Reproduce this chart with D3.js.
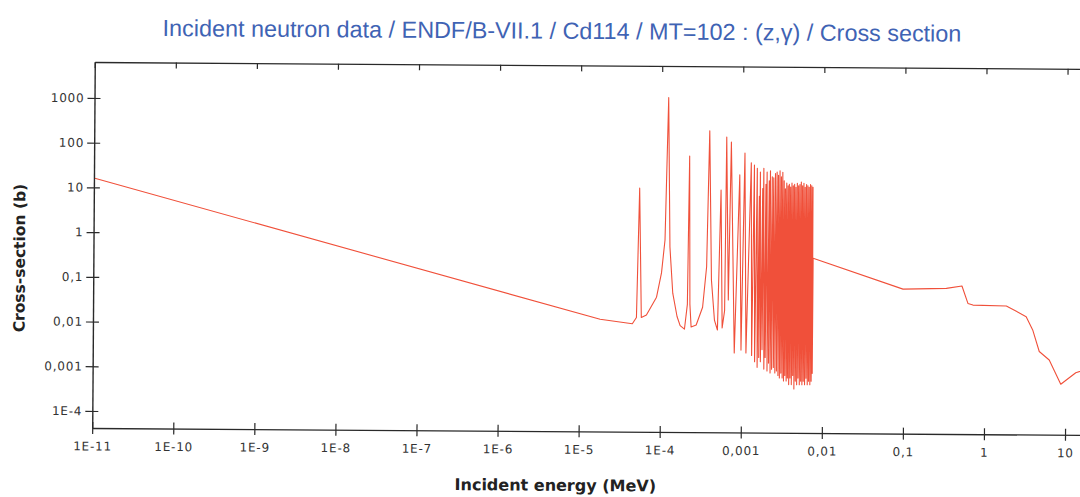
<!DOCTYPE html>
<html><head><meta charset="utf-8">
<script src="https://cdn.jsdelivr.net/npm/d3@7/dist/d3.min.js"></script>
<style>
html,body{margin:0;padding:0;background:#fff;}
svg{display:block;}
</style></head>
<body>
<svg id="chart" width="1080" height="497"></svg>
<script>
// ---------- data (energy in MeV, cross section in barns) ----------
const titleText = "Incident neutron data / ENDF/B-VII.1 / Cd114 / MT=102 : (z,\u03B3) / Cross section";
const xTitle = "Incident energy (MeV)";
const yTitle = "Cross-section (b)";

const xTickValues = [1e-11,1e-10,1e-9,1e-8,1e-7,1e-6,1e-5,1e-4,1e-3,1e-2,1e-1,1,10];
const xTickLabels = ["1E-11","1E-10","1E-9","1E-8","1E-7","1E-6","1E-5","1E-4","0,001","0,01","0,1","1","10"];
const yTickValues = [1e-4,1e-3,1e-2,1e-1,1,10,100,1000];
const yTickLabels = ["1E-4","0,001","0,01","0,1","1","10","100","1000"];

// 1/v region
const thermalPts = [[1e-11,16.2],[1.8e-5,0.0135],[4.5e-5,0.0108],[5.05e-5,0.0150]];

// isolated resolved resonances
const resolvedPts = [
 [5.40e-5,11.7],[5.8e-5,0.0150],[6.7e-5,0.017],[8.9e-5,0.043],[1.02e-4,0.15],[1.12e-4,0.82],
 [1.21e-4,1250],[1.29e-4,0.57],[1.41e-4,0.053],[1.60e-4,0.016],[1.75e-4,0.010],[1.98e-4,0.0084],
 [2.14e-4,0.03],[2.22e-4,62],[2.30e-4,0.03],[2.39e-4,0.0094],[2.76e-4,0.0104],[3.30e-4,0.026],[3.67e-4,0.21],
 [3.91e-4,230],[4.22e-4,0.106],[4.63e-4,0.0135],[5.05e-4,0.0081],
 [5.45e-4,11],[5.77e-4,0.009],[6.17e-4,0.022],[6.34e-4,168],[6.84e-4,0.038],[7.24e-4,130],
 [8.18e-4,0.0025],[9.25e-4,24],[9.9e-4,0.0029],[1.067e-3,74],[1.14e-3,0.0025]
];

// dense resonance band
const densePts = [
 [1.28e-3,45],[1.34e-3,0.0022],[1.40e-3,40],[1.46e-3,0.0016],[1.52e-3,34],[1.57e-3,0.0012],
 [1.62e-3,8],[1.64e-3,0.002],[1.66e-3,28],[1.72e-3,0.0016],[1.78e-3,12],[1.80e-3,0.003],
 [1.83e-3,34],[1.90e-3,0.0011],[1.95e-3,15],[1.97e-3,0.002],[2.01e-3,28],[2.08e-3,0.0010],
 [2.14e-3,18],[2.17e-3,0.0015],[2.21e-3,30],[2.27e-3,0.0009],[2.33e-3,22],[2.37e-3,0.0011],
 [2.43e-3,21],[2.49e-3,0.0012],[2.55e-3,26],[2.60e-3,0.0009],[2.67e-3,28],[2.72e-3,0.0010],
 [2.78e-3,24],[2.84e-3,0.0008],[2.90e-3,30],[2.96e-3,0.0007],[3.02e-3,22],[3.08e-3,0.0009],
 [3.14e-3,28],[3.20e-3,0.0007],[3.27e-3,18],[3.33e-3,0.0006],[3.39e-3,12],[3.45e-3,0.0008],
 [3.52e-3,16],[3.59e-3,0.0006],[3.66e-3,14],[3.72e-3,0.0007],[3.79e-3,15],[3.86e-3,0.0005],
 [3.93e-3,13],[4.0e-3,0.0007],[4.08e-3,16],[4.16e-3,0.0005],[4.24e-3,14],[4.32e-3,0.0008],
 [4.40e-3,15],[4.48e-3,0.0004],[4.57e-3,13],[4.66e-3,0.0006],[4.75e-3,16],[4.84e-3,0.0005],
 [4.93e-3,14],[5.02e-3,0.0007],[5.12e-3,15],[5.22e-3,0.0005],[5.32e-3,17],[5.42e-3,0.0006],
 [5.52e-3,14],[5.62e-3,0.0005],[5.73e-3,16],[5.84e-3,0.0006],[5.95e-3,13],[6.06e-3,0.0005],
 [6.18e-3,15],[6.30e-3,0.0007],[6.42e-3,14],[6.54e-3,0.0005],[6.66e-3,13],[6.78e-3,0.0006],
 [6.91e-3,15],[7.04e-3,0.0005],[7.17e-3,14],[7.30e-3,0.0006],[7.42e-3,13],[7.52e-3,0.0009]
];

// fast region
const fastPts = [
 [7.55e-3,0.336],[0.0975,0.071],[0.334,0.075],[0.52,0.085],[0.618,0.0348],[0.713,0.032],
 [1.84,0.031],[3.24,0.018],[3.91,0.0091],[4.73,0.0030],[6.29,0.00195],[8.77,0.00056],
 [13.4,0.00102],[20,0.0013]
];

// ---------- layout ----------
const svg = d3.select("#chart");
const X0 = 93.5, DEC = 81.07, YT = 65.4, YB = 431.4;
const g = svg.append("g").attr("transform","rotate(0.4,585,245)");

const x = d3.scaleLog().domain([1e-11,20]).range([X0, X0 + Math.log10(20/1e-11)*DEC]);
const y = d3.scaleLog().domain([Math.pow(10,-4.38), Math.pow(10,3.805)]).range([YB, YT]);
const XR = x.range()[1];

svg.append("defs").append("clipPath").attr("id","clip")
  .append("rect").attr("x",X0).attr("y",YT).attr("width",XR-X0).attr("height",YB-YT);

const allPts = thermalPts.concat(resolvedPts, densePts, fastPts);
const line = d3.line().x(d=>x(d[0])).y(d=>y(d[1]));
g.append("path").datum(allPts)
  .attr("clip-path","url(#clip)")
  .attr("d",line).attr("fill","none")
  .attr("stroke","#f0503a").attr("stroke-width",1.1).attr("stroke-linejoin","round");

const axisColor = "#2a2a2a";
const axB = d3.axisBottom(x).tickValues(xTickValues).tickFormat((d,i)=>xTickLabels[i]).tickSizeInner(6).tickSizeOuter(0).tickPadding(8);
const gb = g.append("g").attr("transform",`translate(0,${YB})`).call(axB);
const axL = d3.axisLeft(y).tickValues(yTickValues).tickFormat((d,i)=>yTickLabels[i]).tickSizeInner(6).tickSizeOuter(0).tickPadding(8);
const gl = g.append("g").attr("transform",`translate(${X0},0)`).call(axL);
const axT = d3.axisBottom(x).tickValues(xTickValues).tickFormat("").tickSizeInner(6).tickSizeOuter(0);
const gt = g.append("g").attr("transform",`translate(0,${YT})`).call(axT);
const axR = d3.axisLeft(y).tickValues(yTickValues).tickFormat("").tickSizeInner(6).tickSizeOuter(0);
const gr = g.append("g").attr("transform",`translate(${XR},0)`).call(axR);

[gb,gl,gt,gr].forEach(a=>{
  a.select(".domain").attr("stroke",axisColor).attr("stroke-width",1.4);
  a.selectAll(".tick line").attr("stroke",axisColor).attr("stroke-width",1.2);
  a.selectAll("text").attr("fill","#333").style("font-family","'DejaVu Sans'").style("font-size","12px").style("letter-spacing","0.8px");
});
gb.selectAll(".tick line").attr("y1",-6).attr("y2",6);
gl.selectAll(".tick line").attr("x1",-7).attr("x2",6);
gb.selectAll("text").attr("y",14);
gl.selectAll("text").attr("x",-10);

const t = g.append("text").attr("x",560.5).attr("y",39).attr("text-anchor","middle")
  .attr("fill","#3f63b4").style("font-family","'Liberation Sans', Arial, sans-serif").style("font-size","20px")
  .text(titleText);
const tw = t.node().getComputedTextLength();
t.style("font-size", (20*799/tw).toFixed(2)+"px");

g.append("text").attr("x",557).attr("y",491).attr("text-anchor","middle")
  .attr("fill","#222").style("font-family","'DejaVu Sans'").style("font-weight","bold").style("font-size","16px")
  .text(xTitle);
g.append("text").attr("transform","translate(25,262) rotate(-90)").attr("text-anchor","middle")
  .attr("fill","#222").style("font-family","'DejaVu Sans'").style("font-weight","bold").style("font-size","15.5px")
  .text(yTitle);
</script>
</body></html>
